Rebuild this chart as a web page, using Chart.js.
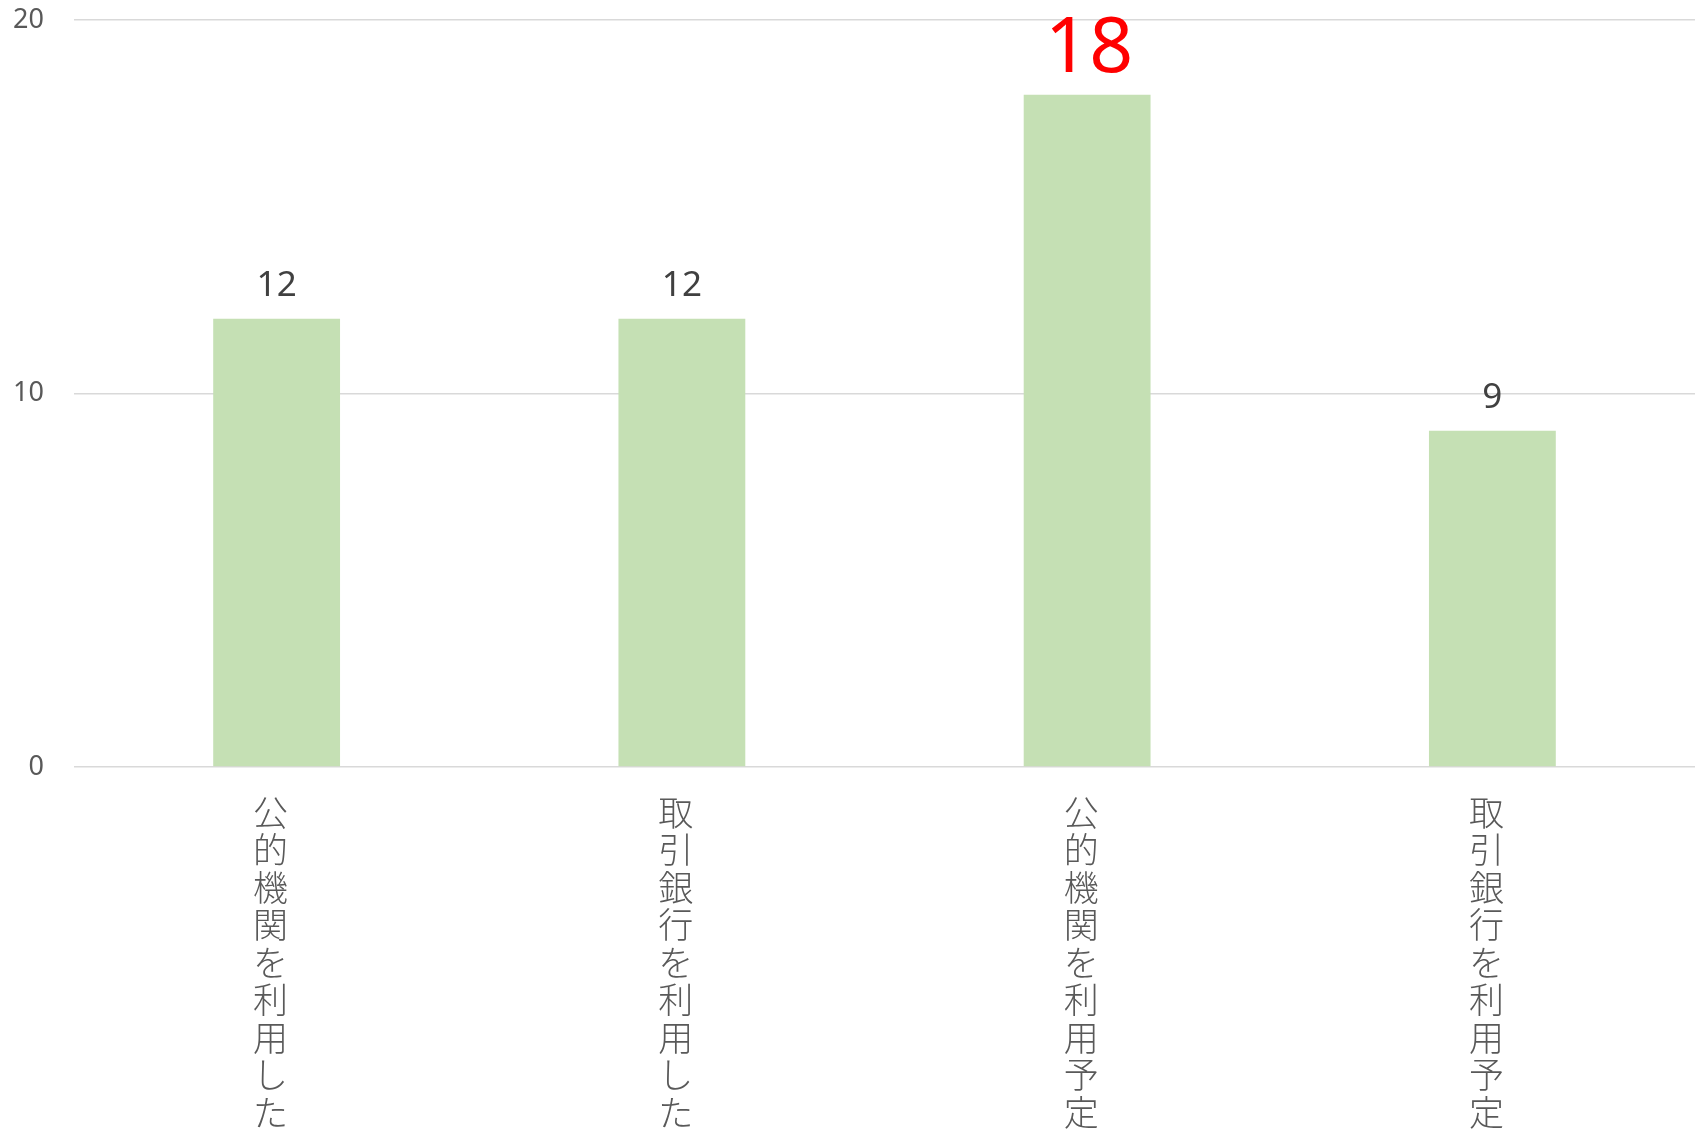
<!DOCTYPE html>
<html><head><meta charset="utf-8">
<script src="https://cdn.jsdelivr.net/npm/chart.js@4/dist/chart.umd.min.js"></script>
<style>html,body{margin:0;padding:0;background:#fff}#wrap{width:1700px;height:1132px}</style>
</head><body><div id="wrap"><canvas id="c" width="1700" height="1132"></canvas></div>
<script>
const categories = ['公的機関を利用した','取引銀行を利用した','公的機関を利用予定','取引銀行を利用予定'];
const values = [12, 12, 18, 9];
const highlight = [false, false, true, false];
const yTicks = [0, 10, 20];

const labelPlugin = {
  id: 'vals',
  afterDatasetsDraw(chart) {
    const ctx = chart.ctx;
    const meta = chart.getDatasetMeta(0);
    ctx.save();
    ctx.textAlign = 'center';
    ctx.textBaseline = 'alphabetic';
    meta.data.forEach((bar, i) => {
      if (highlight[i]) {
        ctx.fillStyle = '#FF0000';
        ctx.font = '77px "Noto Sans"';
        ctx.fillText(String(values[i]), bar.x + 2, bar.y - 23);
      } else {
        ctx.fillStyle = '#404040';
        ctx.font = '35px "Noto Sans"';
        ctx.fillText(String(values[i]), bar.x, bar.y - 23);
      }
    });
    ctx.restore();
  }
};

new Chart(document.getElementById('c'), {
  type: 'bar',
  data: {
    labels: categories.map(s => Array.from(s)),
    datasets: [{ data: values, backgroundColor: '#C5E0B4', borderWidth: 0,
      categoryPercentage: 1, barPercentage: 0.313 }]
  },
  options: {
    responsive: false,
    animation: false,
    layout: { padding: { top: 20, right: 5, left: 0, bottom: 0 } },
    plugins: { legend: { display: false }, tooltip: { enabled: false } },
    scales: {
      x: {
        grid: { display: false, drawTicks: false },
        border: { display: false },
        ticks: { color: '#595959', font: { family: '"Noto Sans CJK JP"', size: 35, weight: 300, lineHeight: 1.07 },
          padding: 27, labelOffset: -6, maxRotation: 0, minRotation: 0, autoSkip: false },
        afterFit(s) { s.height = 365; s.paddingLeft = 0; s.paddingRight = 0; }
      },
      y: {
        min: 0, max: 20,
        afterBuildTicks(s) { s.ticks = yTicks.map(v => ({ value: v })); },
        grid: { color: '#D9D9D9', lineWidth: 1.5, drawTicks: false },
        border: { display: false },
        ticks: { color: '#595959', font: { family: '"Noto Sans"', size: 27 }, padding: 30 },
        afterFit(s) { s.width = 74; s.paddingTop = 0; s.paddingBottom = 0; }
      }
    }
  },
  plugins: [labelPlugin]
});
</script></body></html>
